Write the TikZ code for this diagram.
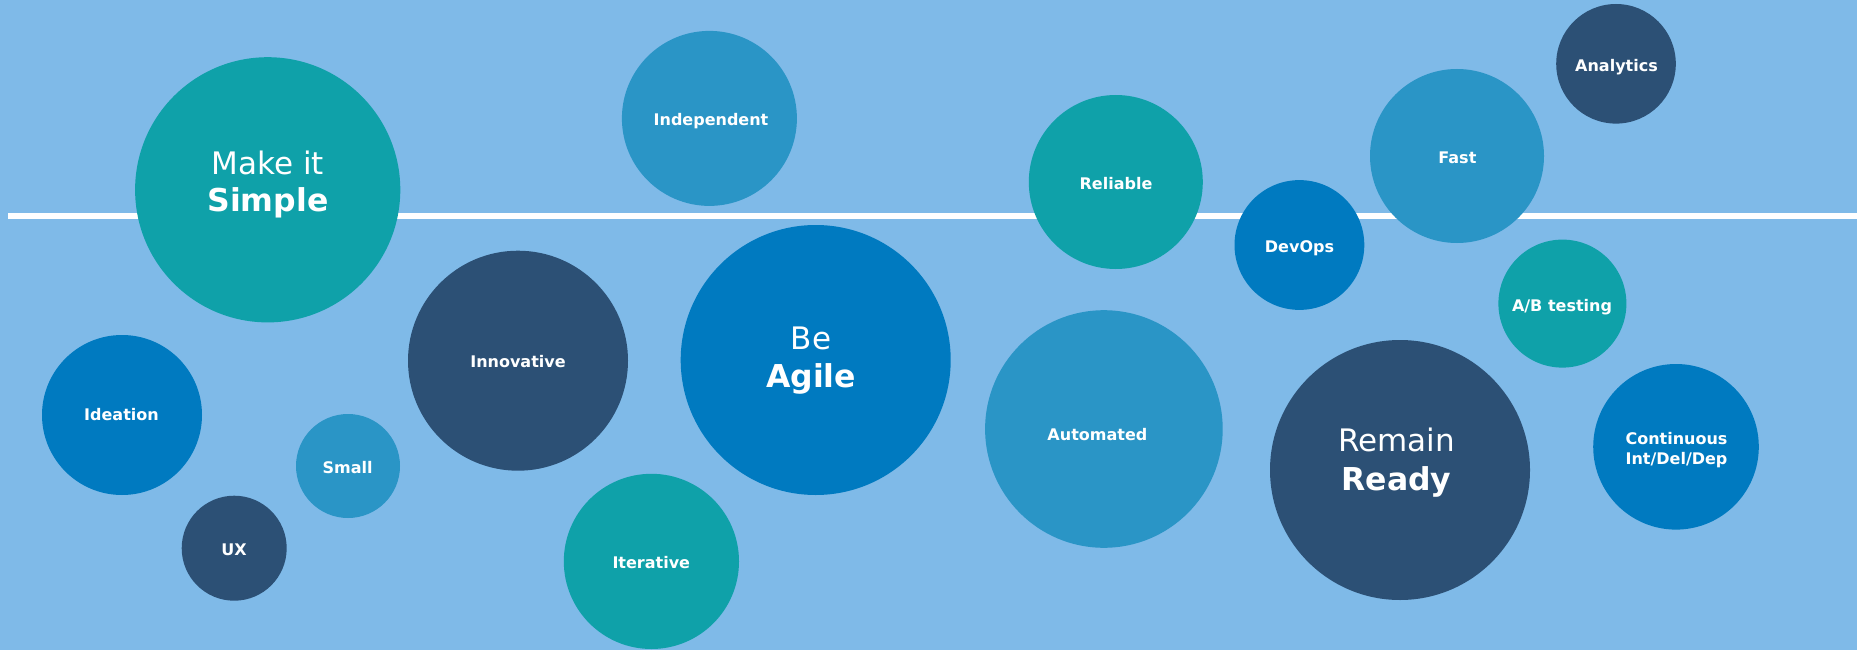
\documentclass[tikz,border=0pt]{standalone}
\usepackage{fontspec}
\setmainfont{DejaVu Sans}
\begin{document}
\begin{tikzpicture}[x=1pt,y=-1pt,
  bub/.style={circle,inner sep=0pt,draw=none},
  teal/.style={fill=cTeal},
  mid/.style={fill=cMid},
  dark/.style={fill=cDark},
  strong/.style={fill=cStrong},
  lbl/.style={anchor=base,inner sep=0pt,text=white,font=\bfseries\fontsize{16}{19}\selectfont},
  bigr/.style={anchor=base,inner sep=0pt,text=white,font=\fontsize{31}{36}\selectfont},
  bigb/.style={anchor=base,inner sep=0pt,text=white,font=\bfseries\fontsize{31.5}{36}\selectfont}
]
\definecolor{cBg}{HTML}{7FBAE8}
\definecolor{cTeal}{HTML}{0FA1A9}
\definecolor{cMid}{HTML}{2A95C6}
\definecolor{cDark}{HTML}{2C5075}
\definecolor{cStrong}{HTML}{007AC0}
\fill[cBg] (0,0) rectangle (1857,650);
\useasboundingbox (0,0) rectangle (1857,650);
\coordinate (la) at (8,216);
\coordinate (lb) at (1857,216);
\draw[white,line width=5.5pt] (la) -- (lb);
% circles
\node[bub,teal,minimum size=265.2pt] (simple) at (267.7,189.8) {};
\node[bub,mid,minimum size=175pt] (indep) at (709.4,118.4) {};
\node[bub,strong,minimum size=160pt] (ideation) at (122,415) {};
\node[bub,dark,minimum size=105pt] (ux) at (234.2,548.2) {};
\node[bub,mid,minimum size=104pt] (small) at (348,466) {};
\node[bub,dark,minimum size=220pt] (innov) at (518,360.7) {};
\node[bub,teal,minimum size=175.2pt] (iter) at (651.4,561.4) {};
\node[bub,strong,minimum size=270pt] (agile) at (815.7,360) {};
\node[bub,teal,minimum size=174pt] (reliable) at (1115.8,182) {};
\node[bub,mid,minimum size=237.6pt] (auto) at (1103.9,429) {};
\node[bub,strong,minimum size=129.8pt] (devops) at (1299.4,245) {};
\node[bub,mid,minimum size=174pt] (fast) at (1457,156) {};
\node[bub,dark,minimum size=119.6pt] (analytics) at (1616,63.8) {};
\node[bub,teal,minimum size=128pt] (ab) at (1562.4,303.6) {};
\node[bub,dark,minimum size=260pt] (ready) at (1400,470) {};
\node[bub,strong,minimum size=165.6pt] (cont) at (1676,446.8) {};
% labels
\node[bigr] (t-make) at (268,174) {Make it};
\node[bigb] (t-simple) at (268,211) {Simple};
\node[lbl] (t-indep) at (711,125.7) {Independent};
\node[lbl] (t-ideation) at (121.5,420) {Ideation};
\node[lbl] (t-ux) at (234,555) {UX};
\node[lbl] (t-small) at (347.7,473.7) {Small};
\node[lbl] (t-innov) at (518,367.3) {Innovative};
\node[lbl] (t-iter) at (651.3,568.3) {Iterative};
\node[bigr] (t-be) at (811,349.3) {Be};
\node[bigb] (t-agile) at (811,387.7) {Agile};
\node[lbl] (t-reliable) at (1116,189.4) {Reliable};
\node[lbl] (t-auto) at (1097.4,440.7) {Automated};
\node[lbl] (t-devops) at (1299.5,252.4) {DevOps};
\node[lbl] (t-fast) at (1457.4,163.3) {Fast};
\node[lbl] (t-analytics) at (1616.5,71.3) {Analytics};
\node[lbl] (t-ab) at (1562,311.7) {A/B testing};
\node[bigr] (t-remain) at (1396.5,451.8) {Remain};
\node[bigb] (t-ready) at (1396.5,490.4) {Ready};
\node[lbl] (t-cont1) at (1676.5,444.3) {Continuous};
\node[lbl] (t-cont2) at (1676.5,464.2) {Int/Del/Dep};
\end{tikzpicture}
\end{document}
